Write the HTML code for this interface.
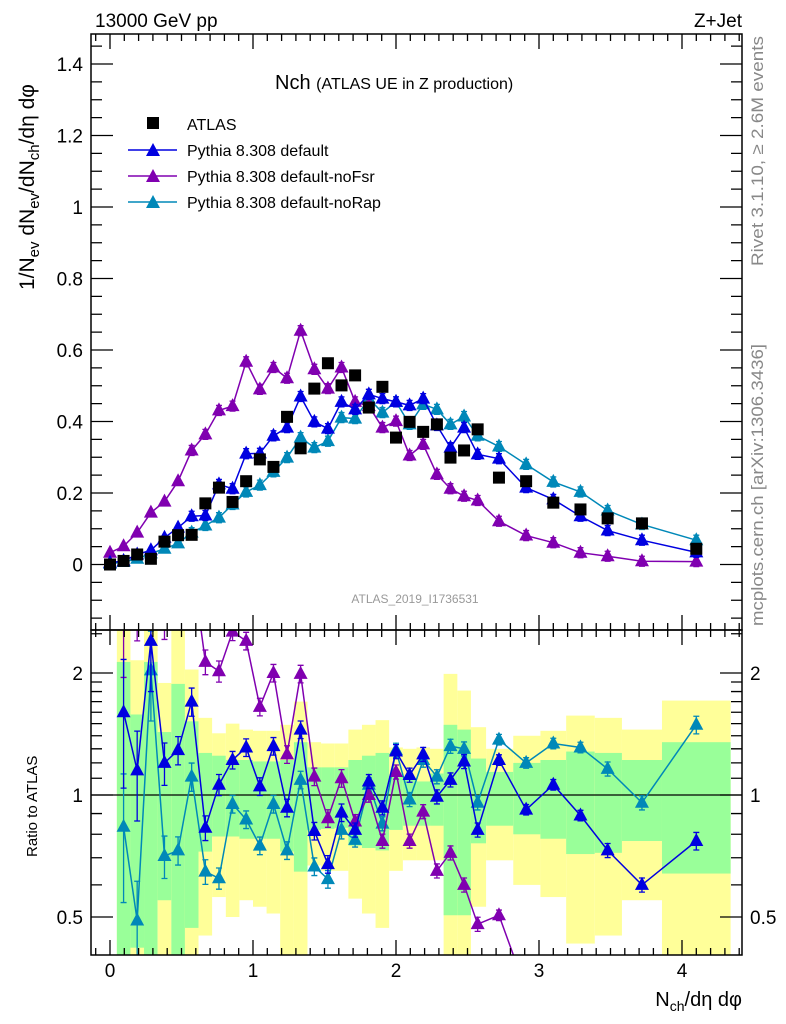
<!DOCTYPE html>
<html><head><meta charset="utf-8"><style>
html,body{margin:0;padding:0;background:#fff;width:786px;height:1024px;overflow:hidden;}
svg{display:block;font-family:"Liberation Sans",sans-serif;}
</style></head><body>
<svg id="chart" width="786" height="1024" viewBox="0 0 786 1024" xmlns="http://www.w3.org/2000/svg">
<defs>
<clipPath id="clipTop"><rect x="91" y="34" width="651" height="596"/></clipPath>
<clipPath id="clipBot"><rect x="91" y="630" width="651" height="325"/></clipPath>
</defs>
<g id="bands" clip-path="url(#clipBot)"></g>
<g id="topMarks" clip-path="url(#clipTop)"></g>
<g id="botMarks" clip-path="url(#clipBot)"></g>
<g id="axes"></g>
<text x="95" y="27" font-size="19">13000 GeV pp</text>
<text x="742" y="27" font-size="19" text-anchor="end">Z+Jet</text>
<text x="275" y="89" font-size="20">Nch <tspan font-size="16">(ATLAS UE in Z production)</tspan></text>
<g>
<rect x="147" y="117" width="12" height="12" fill="#000"/>
<text x="187" y="130" font-size="16">ATLAS</text>
<line x1="128" y1="150" x2="177" y2="150" stroke="#0000e0" stroke-width="1.5"/>
<polygon points="146,156 160,156 153,143" fill="#0000e0"/>
<text x="187" y="156" font-size="16">Pythia 8.308 default</text>
<line x1="128" y1="176" x2="177" y2="176" stroke="#8000b0" stroke-width="1.5"/>
<polygon points="146,182 160,182 153,169" fill="#8000b0"/>
<text x="187" y="182" font-size="16">Pythia 8.308 default-noFsr</text>
<line x1="128" y1="202" x2="177" y2="202" stroke="#0088b8" stroke-width="1.5"/>
<polygon points="146,208 160,208 153,195" fill="#0088b8"/>
<text x="187" y="208" font-size="16">Pythia 8.308 default-noRap</text>
</g>
<text x="415" y="603" font-size="12" fill="#999" text-anchor="middle">ATLAS_2019_I1736531</text>
<text transform="translate(34,290) rotate(-90)" font-size="21">1/N<tspan font-size="15" dy="5">ev</tspan><tspan dy="-5"> dN</tspan><tspan font-size="15" dy="5">ev</tspan><tspan dy="-5">/dN</tspan><tspan font-size="15" dy="5">ch</tspan><tspan dy="-5">/dη dφ</tspan></text>
<text transform="translate(37,857) rotate(-90)" font-size="15">Ratio to ATLAS</text>
<text x="742" y="1006" font-size="20" text-anchor="end">N<tspan font-size="14" dy="5">ch</tspan><tspan dy="-5">/dη dφ</tspan></text>
<text transform="translate(763,266) rotate(-90)" font-size="17" fill="#888" textLength="230" lengthAdjust="spacingAndGlyphs">Rivet 3.1.10, ≥ 2.6M events</text>
<text transform="translate(763,626) rotate(-90)" font-size="17" fill="#888" textLength="282" lengthAdjust="spacingAndGlyphs">mcplots.cern.ch [arXiv:1306.3436]</text>
</svg>
<script>
const xs=[0,0.095,0.19,0.286,0.381,0.476,0.571,0.667,0.762,0.857,0.952,1.048,1.143,1.238,1.333,1.429,1.524,1.619,1.714,1.81,1.905,2.0,2.095,2.19,2.286,2.381,2.476,2.571,2.72,2.91,3.10,3.29,3.48,3.72,4.10];
const edges=[-0.048,0.048,0.143,0.238,0.333,0.429,0.524,0.619,0.714,0.81,0.905,1.0,1.095,1.19,1.286,1.381,1.476,1.571,1.667,1.762,1.857,1.952,2.048,2.143,2.238,2.333,2.429,2.524,2.63,2.82,3.01,3.19,3.39,3.58,3.86,4.34];
const atlas=[0.0,0.01,0.028,0.016,0.064,0.082,0.083,0.171,0.215,0.175,0.233,0.294,0.273,0.413,0.325,0.492,0.563,0.501,0.529,0.439,0.497,0.355,0.399,0.371,0.392,0.299,0.319,0.378,0.243,0.233,0.173,0.154,0.129,0.115,0.044];
const pyDefault=[0.005,0.01,0.028,0.04,0.075,0.103,0.135,0.137,0.224,0.212,0.31,0.311,0.36,0.383,0.47,0.399,0.38,0.455,0.434,0.476,0.464,0.455,0.445,0.464,0.389,0.327,0.383,0.308,0.296,0.215,0.182,0.135,0.095,0.068,0.034];
const pyNoFsr=[0.033,0.051,0.089,0.145,0.176,0.233,0.319,0.364,0.431,0.443,0.567,0.49,0.551,0.521,0.654,0.546,0.492,0.551,0.455,0.443,0.383,0.401,0.305,0.336,0.252,0.212,0.191,0.179,0.121,0.081,0.061,0.033,0.023,0.009,0.008];
const pyNoRap=[0.002,0.007,0.016,0.031,0.044,0.059,0.089,0.109,0.131,0.168,0.203,0.222,0.259,0.299,0.355,0.327,0.345,0.411,0.408,0.464,0.425,0.455,0.392,0.448,0.434,0.392,0.414,0.36,0.33,0.28,0.231,0.203,0.151,0.112,0.068];
const rDefault=[null,1.60,1.15,2.4,1.20,1.29,1.70,0.83,1.06,1.22,1.31,1.05,1.32,0.93,1.45,0.815,0.675,0.905,0.82,1.08,0.93,1.28,1.12,1.26,0.99,1.09,1.21,0.82,1.22,0.92,1.06,0.89,0.73,0.60,0.77];
const rNoFsr=[null,3,3.2,9,2.75,2.85,3.8,2.13,2.02,2.53,2.4,1.65,2.0,1.26,1.99,1.11,0.876,1.10,0.86,1.0,0.77,1.14,0.77,0.91,0.65,0.72,0.60,0.48,0.505,0.33,0.35,0.21,0.18,0.08,0.18];
const rNoRap=[null,0.835,0.49,2.03,0.707,0.73,1.11,0.647,0.623,0.95,0.87,0.75,0.95,0.73,1.09,0.666,0.62,0.82,0.775,1.06,0.85,1.29,0.975,1.22,1.11,1.32,1.30,0.957,1.37,1.20,1.34,1.31,1.16,0.957,1.49];
const relErr=[0,0.35,0.25,0.25,0.12,0.08,0.08,0.07,0.06,0.05,0.05,0.05,0.05,0.05,0.05,0.05,0.05,0.05,0.04,0.04,0.04,0.04,0.04,0.04,0.04,0.04,0.04,0.04,0.03,0.03,0.03,0.03,0.04,0.04,0.05];
const yelHi=[null,3,2.15,3,1.89,3,2.04,1.55,1.42,1.5,1.45,1.44,1.44,1.49,1.70,1.35,1.34,1.34,1.45,1.49,1.53,1.31,1.30,1.31,1.30,1.99,1.81,1.47,1.30,1.40,1.44,1.57,1.55,1.45,1.71];
const yelLo=[null,0.3,0.3,0.3,0.3,0.3,0.3,0.45,0.56,0.5,0.55,0.53,0.51,0.3,0.3,0.67,0.65,0.65,0.555,0.51,0.47,0.65,0.69,0.69,0.69,0.3,0.3,0.53,0.69,0.60,0.56,0.43,0.45,0.55,0.3];
const grnHi=[null,2.13,1.58,2.13,1.43,1.88,1.52,1.27,1.25,1.22,1.22,1.21,1.21,1.22,1.35,1.17,1.17,1.17,1.22,1.25,1.27,1.11,1.10,1.08,1.13,1.49,1.45,1.23,1.14,1.20,1.22,1.28,1.27,1.22,1.35];
const grnLo=[null,0.3,0.42,0.3,0.55,0.3,0.47,0.725,0.79,0.79,0.78,0.78,0.78,0.725,0.647,0.82,0.825,0.83,0.75,0.74,0.73,0.82,0.84,0.84,0.84,0.505,0.505,0.76,0.84,0.80,0.78,0.715,0.72,0.77,0.64];
const yTicks=[0,0.2,0.4,0.6,0.8,1,1.2,1.4];
const rTicks=[0.5,1,2];
const xTicks=[0,1,2,3,4];

const NS="http://www.w3.org/2000/svg";
const X=v=>110+143*v;
const Y=v=>564.5-357.5*v;
const R=v=>795-122*Math.log2(v);
function mk(parent,tag,attrs){const e=document.createElementNS(NS,tag);for(const k in attrs)e.setAttribute(k,attrs[k]);parent.appendChild(e);return e;}
const bands=document.getElementById('bands'),top_=document.getElementById('topMarks'),bot=document.getElementById('botMarks'),axes=document.getElementById('axes');

for(let i=0;i<xs.length;i++){
  if(yelHi[i]===null)continue;
  const x0=X(edges[i]),x1=X(edges[i+1]);
  let r=mk(bands,'rect',{x:x0,y:R(yelHi[i]),width:x1-x0,height:R(yelLo[i])-R(yelHi[i]),fill:'#ffff99'});
  
  
  r=mk(bands,'rect',{x:x0,y:R(grnHi[i]),width:x1-x0,height:R(grnLo[i])-R(grnHi[i]),fill:'#99ff99'});
  
  
}
let ul=mk(bot,'line',{x1:91,x2:742,y1:R(1),y2:R(1),stroke:'#000','stroke-width':1.3});



function tri(g,cx,cy,col){return mk(g,'polygon',{points:`${cx-7},${cy+5} ${cx+7},${cy+5} ${cx},${cy-8}`,fill:col});}
function series(vals,col,name){
  const g=mk(top_,'g',{});
  
  
  mk(g,'polyline',{points:vals.map((v,i)=>X(xs[i])+','+Y(v)).join(' '),fill:'none',stroke:col,'stroke-width':1.5});
  vals.forEach((v,i)=>{
    const cx=X(xs[i]),cy=Y(v),e=5;
    if(i>5){mk(g,'path',{d:`M${cx},${cy-e}V${cy+e}M${cx-3},${cy-e}H${cx+3}M${cx-3},${cy+e}H${cx+3}`,stroke:col,'stroke-width':1.3,fill:'none'});}
    const p=tri(g,cx,cy,col);
    
    
  });
}
function rseries(vals,col,name){
  const g=mk(bot,'g',{});
  
  
  const pts=[];vals.forEach((v,i)=>{if(v!==null)pts.push(X(xs[i])+','+R(v));});
  mk(g,'polyline',{points:pts.join(' '),fill:'none',stroke:col,'stroke-width':1.5});
  vals.forEach((v,i)=>{
    if(v===null)return;
    const cx=X(xs[i]),cy=R(v),hi=R(v*(1+relErr[i])),lo=R(Math.max(v*(1-relErr[i]),0.05));
    mk(g,'path',{d:`M${cx},${hi}V${lo}M${cx-3},${hi}H${cx+3}M${cx-3},${lo}H${cx+3}`,stroke:col,'stroke-width':1.3,fill:'none'});
    const p=tri(g,cx,cy,col);
    
    
  });
}
series(pyNoRap,'#0088b8','norap');
series(pyNoFsr,'#8000b0','nofsr');
series(pyDefault,'#0000e0','default');
atlas.forEach((v,i)=>{
  const s=mk(top_,'rect',{x:X(xs[i])-6,y:Y(v)-6,width:12,height:12,fill:'#000'});
  
  
});
rseries(rNoRap,'#0088b8','norap');
rseries(rNoFsr,'#8000b0','nofsr');
rseries(rDefault,'#0000e0','default');

let f=mk(axes,'rect',{x:91,y:34,width:651,height:596,fill:'none',stroke:'#000','stroke-width':1.5});

f=mk(axes,'rect',{x:91,y:630,width:651,height:325,fill:'none',stroke:'#000','stroke-width':1.5});

let d='';
for(let m=-1;m<=44;m++){const v=m/10;const x=X(v);if(x<92||x>741)continue;const major=m%10===0;const L=major?15:7;
  d+=`M${x},34v${L}M${x},630v${-L}M${x},630v${L}M${x},955v${-L}`;}
for(let m=-3;m<=29;m++){const v=m/20;const y=Y(v);if(y<35||y>629)continue;const L=m%4===0?22:11;d+=`M91,${y}h${L}M742,${y}h${-L}`;}
[0.5,0.6,0.7,0.8,0.9,1,1.1,1.2,1.3,1.4,1.5,1.6,1.7,1.8,1.9,2,2.5].forEach(v=>{const y=R(v);const L=rTicks.includes(v)?22:11;d+=`M91,${y}h${L}M742,${y}h${-L}`;});
mk(axes,'path',{d:d,stroke:'#000','stroke-width':1.3,fill:'none'});
yTicks.forEach(v=>{const t=mk(axes,'text',{x:83,y:Y(v)+7,'font-size':19,'text-anchor':'end'});t.textContent=String(v);
  });
rTicks.forEach(v=>{[[83,'end'],[750,'start']].forEach(([x,a])=>{const t=mk(axes,'text',{x:x,y:R(v)+7,'font-size':19,'text-anchor':a});t.textContent=String(v);
  });});
xTicks.forEach(v=>{const t=mk(axes,'text',{x:X(v),y:977,'font-size':19,'text-anchor':'middle'});t.textContent=String(v);
  });
</script>
</body></html>
